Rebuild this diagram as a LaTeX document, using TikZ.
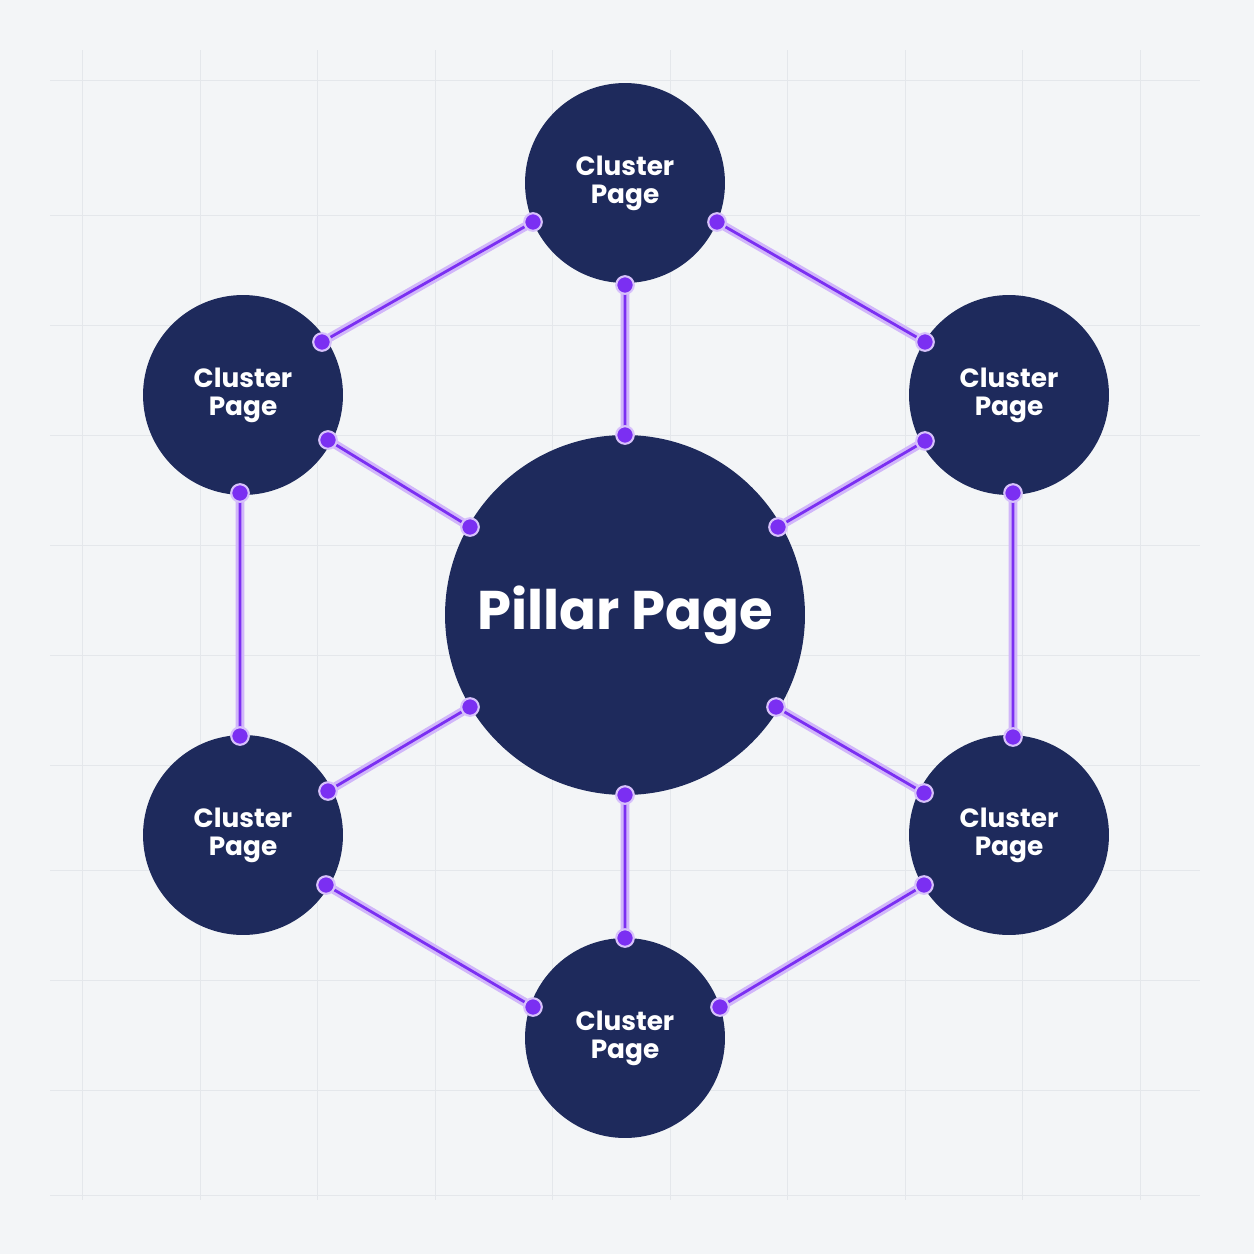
\documentclass[tikz,border=0pt]{standalone}
\usepackage{fontspec}
\setmainfont{Poppins}
\definecolor{navy}{HTML}{1E2A5C}
\definecolor{purp}{HTML}{7B2FF2}
\definecolor{bg}{HTML}{F3F5F7}
\definecolor{grid}{HTML}{E4E7EB}
\begin{document}
\begin{tikzpicture}[x=0.02cm,y=-0.02cm,
  circ/.style={circle,fill=navy,text=white,align=center,inner sep=0pt,font=\bfseries\fontsize{15}{16}\selectfont},
  link/.style={draw=purp,line width=1.6pt},
  glow/.style={draw=purp!35,line width=5pt},
  dot/.style={circle,fill=purp,draw=purp!30,line width=1.2pt,minimum size=10pt,inner sep=0pt}]
\fill[bg] (0,0) rectangle (1254,1254);
\useasboundingbox (0,0) rectangle (1254,1254);
\foreach \x in {82,200,317,435,552,670,787,905,1022,1140} \draw[grid,line width=0.5pt] (\x,50) -- (\x,1200);
\foreach \y in {80,215,325,435,545,655,765,870,980,1090,1195} \draw[grid,line width=0.5pt] (50,\y) -- (1200,\y);
\node[circ,minimum size=7.2cm,font=\bfseries\fontsize{31}{34}\selectfont] (p) at (625,615) {Pillar Page};
\node[circ,minimum size=4cm] (t) at (625,183) {Cluster\\Page};
\node[circ,minimum size=4cm] (lu) at (243,395) {Cluster\\Page};
\node[circ,minimum size=4cm] (ru) at (1009,395) {Cluster\\Page};
\node[circ,minimum size=4cm] (ll) at (243,835) {Cluster\\Page};
\node[circ,minimum size=4cm] (rl) at (1009,835) {Cluster\\Page};
\node[circ,minimum size=4cm] (b) at (625,1038) {Cluster\\Page};
\foreach \n/\x/\y in {p1/625/435,p2/470/527,p3/778/527,p4/470/707,p5/776/707,p6/625/795,
 t1/533/222,t2/717/222,t3/625/285,lu1/322/342,lu2/328/440,lu3/240/493,ru1/925/342,ru2/925/441,ru3/1013/493,
 ll1/240/736,ll2/328/791,ll3/326/885,rl1/1013/737,rl2/924/793,rl3/924/885,b1/625/938,b2/533/1007,b3/720/1007}
  \coordinate (\n) at (\x,\y);
\foreach \s in {glow,link}
  \path[\s] (t1)--(lu1) (t2)--(ru1) (t3)--(p1) (lu2)--(p2) (ru2)--(p3) (lu3)--(ll1) (ru3)--(rl1)
   (ll2)--(p4) (rl2)--(p5) (ll3)--(b2) (rl3)--(b3) (b1)--(p6);
\foreach \n in {p1,p2,p3,p4,p5,p6,t1,t2,t3,lu1,lu2,lu3,ru1,ru2,ru3,ll1,ll2,ll3,rl1,rl2,rl3,b1,b2,b3}
  \node[dot] at (\n) {};
\end{tikzpicture}
\end{document}
